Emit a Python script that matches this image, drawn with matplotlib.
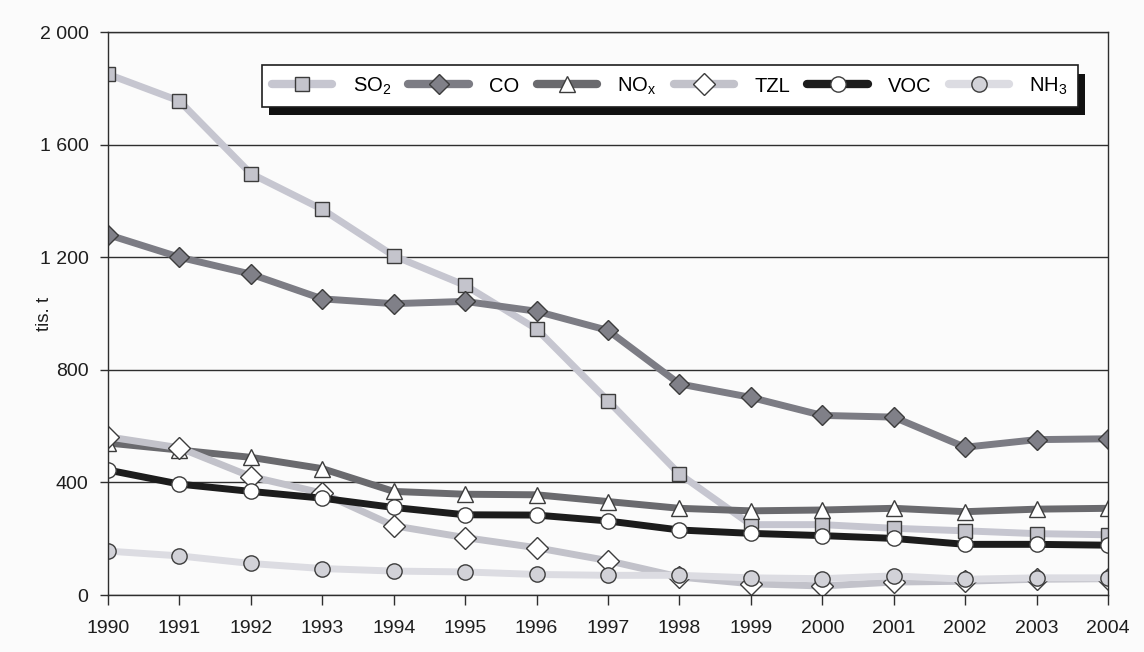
import matplotlib
matplotlib.use("Agg")
import matplotlib.pyplot as plt
from matplotlib.patches import Rectangle
from matplotlib.ticker import FuncFormatter

plt.rcParams["font.family"] = ["Liberation Sans", "DejaVu Sans"]
plt.rcParams["mathtext.default"] = "regular"

# emissions, thousand tonnes per year
years = list(range(1990, 2005))
so2 = [1850, 1755, 1497, 1370, 1205, 1100, 945, 690, 430, 250, 250, 237, 228, 218, 214]
co = [1280, 1200, 1140, 1052, 1035, 1043, 1008, 940, 750, 702, 638, 632, 525, 552, 555]
nox = [540, 515, 489, 449, 368, 358, 356, 332, 308, 299, 302, 308, 296, 305, 308]
tzl = [562, 523, 421, 362, 246, 204, 168, 122, 64, 40, 32, 46, 49, 56, 58]
voc = [444, 394, 368, 344, 311, 285, 284, 263, 231, 219, 211, 201, 180, 180, 177]
nh3 = [156, 139, 112, 94, 85, 82, 73, 70, 70, 61, 58, 68, 56, 61, 61]

labels = ["SO$_2$", "CO", "NO$_x$", "TZL", "VOC", "NH$_3$"]
values = [so2, co, nox, tzl, voc, nh3]

# line colour, marker, marker face, marker size
styles = [
    ("#c6c6d0", "s", "#c4c4cc", 10),
    ("#7c7c84", "D", "#808088", 10),
    ("#6a6a6e", "^", "#ffffff", 12),
    ("#c2c2ca", "D", "#ffffff", 11),
    ("#1c1c1c", "o", "#ffffff", 11),
    ("#dcdce2", "o", "#d2d2d8", 11),
]

fig = plt.figure(figsize=(11.44, 6.52), dpi=100, facecolor="#fbfbfb")
ax = fig.add_axes([0.0944, 0.0874, 0.8741, 0.8635])
ax.set_facecolor("#fbfbfb")

for lab, vals, (lc, mk, mf, ms) in zip(labels, values, styles):
    ax.plot(years, vals, color=lc, lw=5, marker=mk, markersize=ms,
            markerfacecolor=mf, markeredgecolor="#3c3c3c",
            markeredgewidth=1.0, label=lab, solid_capstyle="round")

ax.set_xlim(1990, 2004)
ax.set_ylim(0, 2000)
ax.set_xticks(years)
ax.set_yticks(range(0, 2001, 400))
ax.yaxis.set_major_formatter(
    FuncFormatter(lambda v, _: f"{int(v):,}".replace(",", " ")))
ax.grid(axis="y", color="#2e2e2e", lw=1.0)
ax.set_axisbelow(True)
for side in ax.spines.values():
    side.set_color("#2e2e2e")
    side.set_linewidth(1.0)
ax.tick_params(axis="x", length=7, width=1.0, color="#2e2e2e",
               labelsize=14, pad=11, labelcolor="#1e1e1e")
ax.tick_params(axis="y", length=6, width=1.0, color="#2e2e2e",
               labelsize=14, pad=8, labelcolor="#1e1e1e")
ax.set_ylabel("tis. t", fontsize=13.5, color="#1e1e1e")
ax.yaxis.set_label_coords(-0.055, 0.5)

leg = ax.legend(loc="lower left", bbox_to_anchor=(0.154, 0.867, 0.816, 0.071),
                mode="expand", ncol=6, fontsize=14.5, handlelength=3.0,
                handletextpad=1.0, borderaxespad=0, fancybox=False,
                framealpha=1, edgecolor="#1e1e1e", facecolor="#ffffff",
                borderpad=0.5)
leg.get_frame().set_linewidth(1.2)
for h in leg.legend_handles:
    h.set_linewidth(6)

# hard black drop shadow under the legend box
fig.canvas.draw()
bb = leg.get_window_extent().transformed(ax.transAxes.inverted())
ax.add_patch(Rectangle((bb.x0 + 0.007, bb.y0 - 0.015), bb.width, bb.height,
                       transform=ax.transAxes, facecolor="#111111",
                       edgecolor="none", zorder=4.9, clip_on=False))

fig.savefig("out.png", dpi=100, facecolor=fig.get_facecolor())
